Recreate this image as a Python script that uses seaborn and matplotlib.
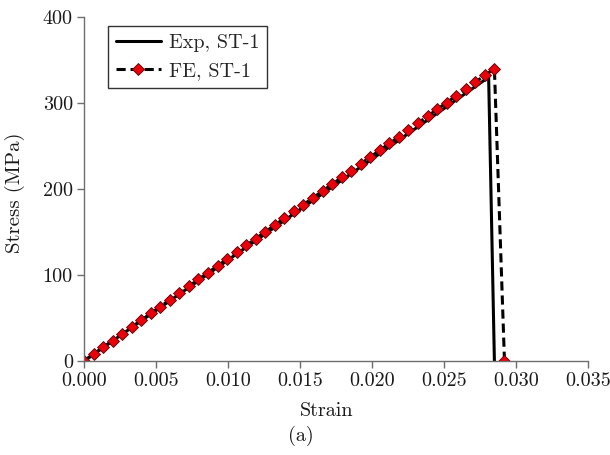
import matplotlib
matplotlib.use("Agg")
import matplotlib.pyplot as plt
import seaborn as sns
import pandas as pd

# Experimental curve
exp_strain = [0.0, 0.0281, 0.0285]
exp_stress = [0.0, 330.0, 0.0]

# FE curve (marker points)
fe_strain = [0.0, 0.00066, 0.00133, 0.00199, 0.00265, 0.00331, 0.00398, 0.00464,
             0.00530, 0.00597, 0.00663, 0.00729, 0.00795, 0.00862, 0.00928, 0.00994,
             0.01060, 0.01127, 0.01193, 0.01259, 0.01326, 0.01392, 0.01458, 0.01524,
             0.01591, 0.01657, 0.01723, 0.01790, 0.01856, 0.01922, 0.01988, 0.02055,
             0.02121, 0.02187, 0.02253, 0.02320, 0.02386, 0.02452, 0.02519, 0.02585,
             0.02651, 0.02717, 0.02784, 0.02850, 0.02920]
fe_stress = [0.0, 7.9, 15.8, 23.7, 31.6, 39.5, 47.4, 55.3, 63.3, 71.2, 79.1, 87.0,
             94.9, 102.8, 110.7, 118.6, 126.5, 134.4, 142.3, 150.2, 158.1, 166.0,
             174.0, 181.9, 189.8, 197.7, 205.6, 213.5, 221.4, 229.3, 237.2, 245.1,
             253.0, 260.9, 268.8, 276.7, 284.7, 292.6, 300.5, 308.4, 316.3, 324.2,
             332.1, 340.0, 0.0]

x_ticks = [0.000, 0.005, 0.010, 0.015, 0.020, 0.025, 0.030, 0.035]
x_ticklabels = ["0.000", "0.005", "0.010", "0.015", "0.020", "0.025", "0.030", "0.035"]
y_ticks = [0, 100, 200, 300, 400]
y_ticklabels = ["0", "100", "200", "300", "400"]

FS = 14.5
TXT = "#1a1a1a"

sns.set_style("white")
plt.rcParams["font.family"] = ["cmr10", "DejaVu Serif"]
plt.rcParams["axes.formatter.use_mathtext"] = True
plt.rcParams["font.size"] = FS

fig = plt.figure(figsize=(6.1, 4.55), dpi=100)
ax = fig.add_axes([84 / 610, 1 - 361 / 455, 504 / 610, 344 / 455])

df_exp = pd.DataFrame({"strain": exp_strain, "stress": exp_stress})
df_fe = pd.DataFrame({"strain": fe_strain, "stress": fe_stress})

sns.lineplot(data=df_exp, x="strain", y="stress", ax=ax, sort=False, estimator=None,
             color="black", linewidth=2.2, label="Exp, ST-1")
sns.lineplot(data=df_fe, x="strain", y="stress", ax=ax, sort=False, estimator=None,
             color="black", linewidth=2.2, linestyle=(0, (3, 1.6)), marker="D",
             markersize=6.3, markerfacecolor="#e8000b", markeredgecolor="#5a0000",
             markeredgewidth=0.6, label="FE, ST-1")

ax.set_xlim(0, 0.035)
ax.set_ylim(0, 400)
ax.set_xticks(x_ticks)
ax.set_xticklabels(x_ticklabels)
ax.set_yticks(y_ticks)
ax.set_yticklabels(y_ticklabels)
for s in ["top", "right"]:
    ax.spines[s].set_visible(False)
for s in ["left", "bottom"]:
    ax.spines[s].set_color("#6e6e6e")
    ax.spines[s].set_linewidth(1.0)
ax.tick_params(axis="both", direction="out", length=5, width=1.0, color="#6e6e6e",
               labelsize=FS, labelcolor=TXT, pad=3, bottom=True, left=True)

ax.set_xlabel("Strain", fontsize=FS, color=TXT)
ax.xaxis.set_label_coords(0.482, -0.118)
ax.set_ylabel("Stress (MPa)", fontsize=FS + 0.5, color=TXT)
ax.yaxis.set_label_coords(-0.117, 0.49)

fig.text(301 / 610, 1 - 436 / 455, "(a)", ha="center", va="center", fontsize=FS,
         color=TXT)

leg = ax.legend(loc="upper left", bbox_to_anchor=(0.048, 0.974), borderaxespad=0,
                frameon=True, fancybox=False, edgecolor="black", fontsize=FS,
                handlelength=2.2, labelspacing=0.5, borderpad=0.4, handletextpad=0.4)
leg.get_frame().set_linewidth(1.0)

fig.savefig("out.png", dpi=100)
